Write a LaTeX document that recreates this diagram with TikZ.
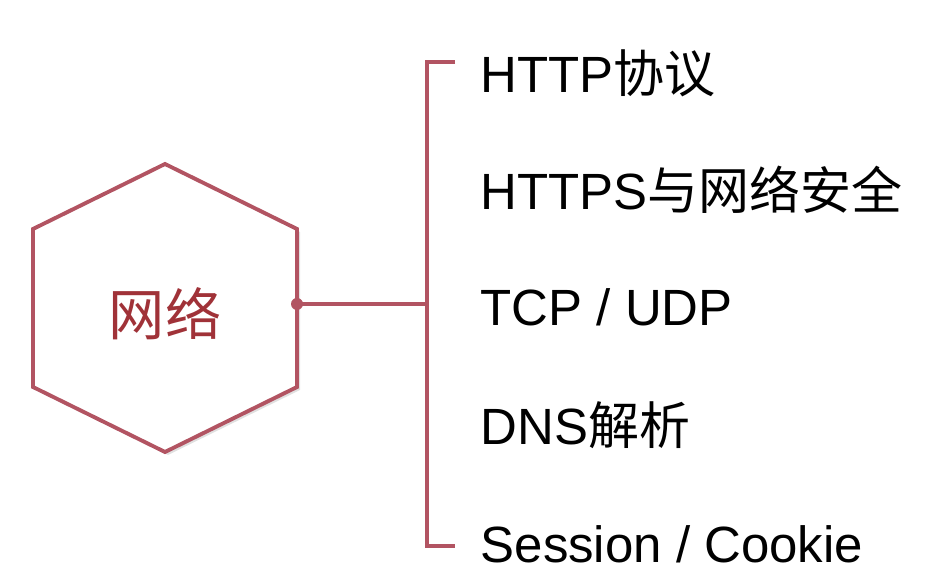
\documentclass[tikz,border=0pt]{standalone}
\usepackage{fontspec}
\setmainfont{Liberation Sans}
\newfontfamily\cjk{Noto Sans CJK SC}
\usepackage{xcolor}
\usetikzlibrary{positioning}
\definecolor{hexred}{RGB}{178,84,98}
\definecolor{hextext}{RGB}{160,50,56}

\begin{document}
\begin{tikzpicture}[
  line/.style={draw=hexred, line width=1.1pt},
  item/.style={anchor=base west, inner sep=0pt, font=\fontsize{14.5}{16}\selectfont},
  title/.style={text=hextext, font=\fontsize{16}{18}\selectfont\cjk}
]
\useasboundingbox (0,0) rectangle (9.38,5.78);

\coordinate (top) at (1.65,4.14);
\coordinate (ur) at (2.97,3.49);
\coordinate (lr) at (2.97,1.91);
\coordinate (bot) at (1.65,1.26);
\coordinate (ll) at (0.33,1.91);
\coordinate (ul) at (0.33,3.49);
\fill[black!12] ([shift={(0.03,-0.03)}]top) -- ([shift={(0.03,-0.03)}]ur)
  -- ([shift={(0.03,-0.03)}]lr) -- ([shift={(0.03,-0.03)}]bot)
  -- ([shift={(0.03,-0.03)}]ll) -- ([shift={(0.03,-0.03)}]ul) -- cycle;
\filldraw[fill=white, line, line join=miter] (top) -- (ur) -- (lr) -- (bot) -- (ll) -- (ul) -- cycle;
\node[title] (net) at (1.65,2.64) {网络};

\coordinate (port) at (2.97,2.74);
\coordinate (join) at (4.27,2.74);
\coordinate (btop) at (4.27,5.16);
\coordinate (bbot) at (4.27,0.32);
\coordinate (ttop) at (4.55,5.16);
\coordinate (tbot) at (4.55,0.32);
\draw[line] (port) -- (join);
\draw[line] (ttop) -- (btop) -- (bbot) -- (tbot);
\fill[hexred] (port) circle (0.06);

\node[item] (http) at (4.80,4.85) {HTTP{\cjk 协议}};
\node[item] (https) at (4.80,3.68) {HTTPS{\cjk 与网络安全}};
\node[item] (tcp) at (4.80,2.52) {TCP / UDP};
\node[item] (dns) at (4.80,1.33) {DNS{\cjk 解析}};
\node[item] (cookie) at (4.80,0.15) {Session / Cookie};
\end{tikzpicture}
\end{document}
